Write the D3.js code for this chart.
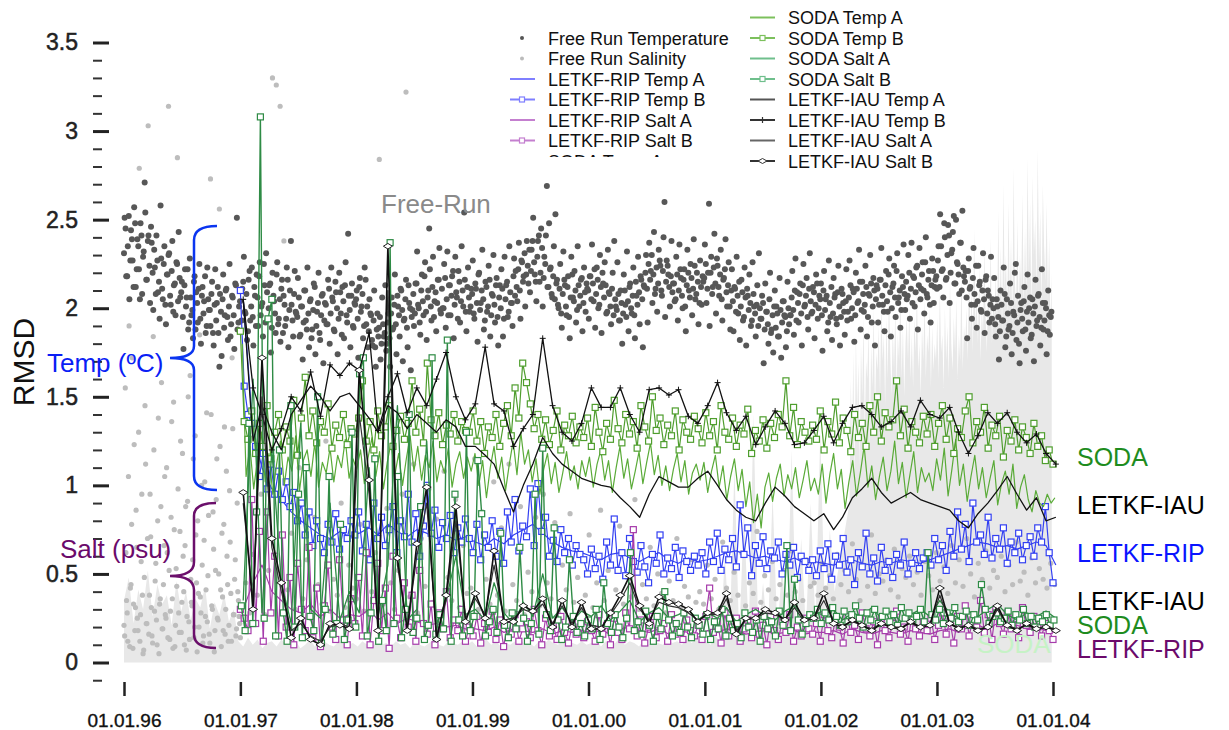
<!DOCTYPE html>
<html><head><meta charset="utf-8">
<script src="https://cdn.jsdelivr.net/npm/d3@7"></script>
<style>body{margin:0;background:#fff;} svg{display:block;font-family:"Liberation Sans",Arial,Helvetica,sans-serif;}</style>
</head><body><svg id="chart" width="1229" height="730"></svg>
<script>
// ---------------- DATA ----------------
const xTickYears = [1996,1997,1998,1999,2000,2001,2002,2003,2004];
const yMajorTicks = [0,0.5,1,1.5,2,2.5,3,3.5];

// Free run temperature dots, every 5 days from 1996-01-01
const frTemp = [
2.31,2.45,2.18,2.52,2.27,2.39,2.12,2.48,2.22,2.35,2.05,2.41,2.29,2.71,2.16,2.38,2.24,2.46,
2.20,2.33,2.08,2.27,2.15,2.58,2.11,2.25,2.02,2.19,2.30,2.07,2.21,1.98,2.14,2.26,2.04,2.17,
2.09,1.95,2.13,2.01,2.22,1.92,2.06,1.99,2.15,1.88,2.03,2.11,1.94,2.07,1.97,2.18,1.90,2.05,
1.99,2.08,1.86,2.02,1.93,2.12,1.67,1.98,2.05,1.89,2.10,1.95,2.01,1.84,2.07,1.96,2.14,2.51,1.92,
2.04,1.93,2.15,1.98,2.08,1.87,2.21,2.01,1.95,2.12,1.90,2.06,2.18,1.96,2.03,2.25,1.92,2.09,
2.00,2.14,1.89,2.07,1.97,2.19,1.91,2.05,2.11,1.86,2.02,1.94,2.16,1.99,2.38,1.93,2.08,1.98,
1.95,2.06,1.85,2.01,1.92,2.10,1.88,1.97,2.04,1.83,1.99,2.12,1.90,2.03,1.86,1.96,2.08,1.93,
2.02,1.91,2.11,1.97,2.06,1.88,2.15,2.00,1.94,2.09,1.85,2.04,2.13,1.96,2.42,1.99,2.07,1.90,2.03,
2.05,1.94,2.12,1.98,2.08,1.90,2.16,2.01,1.87,1.97,1.82,1.93,1.78,1.88,1.84,1.95,1.80,1.91,
1.86,1.76,1.92,1.83,1.97,1.88,2.02,1.91,2.07,1.96,2.11,1.99,1.93,2.05,1.89,2.13,2.00,1.95,
2.08,1.97,2.14,2.02,1.92,2.10,2.04,2.18,1.98,2.06,2.45,2.01,2.12,1.95,2.09,2.03,2.16,1.99,
2.11,2.00,2.17,2.05,1.96,2.13,2.07,2.21,2.02,2.09,1.94,2.15,2.04,2.10,2.54,1.98,2.12,2.06,2.01,
2.08,1.97,2.14,2.03,2.19,1.99,2.10,2.05,1.93,2.12,2.01,2.16,1.96,2.07,2.02,2.13,1.95,2.06,
2.00,2.11,1.94,2.05,2.15,1.98,2.09,2.03,2.18,2.07,2.12,2.22,2.10,2.27,2.15,2.31,2.19,2.24,
2.33,2.21,2.38,2.26,2.15,2.29,2.41,2.20,2.34,2.17,2.25,2.69,2.12,2.22,2.08,2.18,2.05,2.14,
2.02,2.11,1.97,2.08,2.16,2.01,2.12,1.95,2.06,2.19,2.04,2.10,1.99,2.13,2.07,2.17,2.03,2.09,2.14,
2.10,2.18,2.05,2.14,2.22,2.08,2.16,2.02,2.12,2.20,2.06,2.13,1.98,2.09,2.01,2.11,1.96,2.05,
1.99,2.08,1.93,2.03,1.97,2.10,1.95,2.04,2.12,2.00,2.07,1.96,2.15,2.02,2.09,2.18,2.05,2.13,
2.20,2.11,2.25,2.16,2.30,2.19,2.08,2.23,2.14,2.27,2.10,2.21,2.60,2.15,2.24,2.12,2.18,2.09,
2.14,2.05,2.19,2.10,2.22,2.07,2.16,2.01,2.13,2.20,2.06,2.17,2.11,2.24,2.08,2.15,2.03,2.12,2.18,
2.17,2.25,2.11,2.59,2.20,2.08,2.23,2.14,2.28,2.12,2.19,2.05,2.16,2.22,2.09,2.13,2.01,2.10,
2.04,2.12,1.98,2.07,2.15,2.01,2.09,1.95,2.06,2.11,1.99,2.03,1.93,2.08,1.97,2.02,1.90,2.00,
1.94,2.03,1.88,1.98,1.91,2.05,1.86,1.96,2.01,1.89,1.97,1.84,1.99,1.92,2.04,1.95,1.87,2.00,
1.96,2.06,1.99,2.10,1.93,2.03,2.08,1.97,2.13,2.01,2.07,1.95,2.11,2.04,1.98,2.09,2.02,2.14,2.00,
2.05,1.96,2.10,1.99,2.07,1.92,2.03,2.12,1.97,2.06,1.94,2.09,2.01,1.95,2.08,1.98,2.04,1.93,
2.06,2.13,2.00,2.09,1.96,2.11,2.04,2.15,1.99,2.08,2.02,2.12,1.95,2.07,2.14,2.01,2.10,2.05,
2.11,2.02,2.16,2.07,1.98,2.13,2.04,2.19,2.09,2.00,2.14,2.06,2.21,2.03,2.10,1.99,2.12,2.08,
2.15,2.07,2.20,2.11,2.03,2.17,2.09,2.24,2.13,2.05,2.19,2.10,2.26,2.08,2.16,2.02,2.13,2.21,2.12,
2.18,2.27,2.12,2.35,2.22,2.48,2.16,2.30,2.41,2.20,2.33,2.52,2.14,2.26,2.19,2.37,2.10,2.23,
2.15,2.06,2.21,2.11,2.02,2.17,2.08,2.24,2.04,2.13,1.99,2.10,2.05,2.16,1.97,2.07,2.02,1.94,
2.00,1.91,2.05,1.95,1.87,2.02,1.93,2.08,1.84,1.97,1.90,2.03,1.86,1.96,2.25,1.92,1.80,1.99,
1.94,2.04,1.88,1.98,1.92,2.06,1.85,1.97,2.01,1.90,2.07,1.95,1.89,2.03,1.93,2.00,1.87,1.96,1.95];
// second pass of free run temperature dots, every 5 days from 1996-01-03
const frTemp2 = [
2.51,2.18,2.35,2.05,2.44,2.27,2.57,2.12,2.39,2.22,2.48,2.08,2.32,2.54,2.16,2.41,2.03,2.37,
1.99,2.23,2.41,2.09,1.94,2.28,2.05,2.35,1.91,2.19,2.31,2.02,2.38,2.13,1.96,2.25,2.43,2.06,
2.15,1.77,2.22,2.06,1.88,2.28,1.96,1.83,2.18,2.09,1.92,2.25,1.80,2.12,2.04,1.86,2.23,1.99,
1.90,2.15,1.79,2.22,2.03,1.86,2.08,1.73,2.19,1.96,2.11,1.82,2.25,1.91,2.06,1.77,2.13,1.88,2.01,
1.87,2.11,2.29,1.97,1.82,2.16,1.93,2.23,1.79,2.07,2.19,1.90,2.26,2.01,1.84,2.13,2.31,1.94,
2.13,1.75,2.20,2.04,1.86,2.26,1.94,1.81,2.16,2.07,1.90,2.23,1.78,2.10,2.02,1.84,2.21,1.97,
2.17,1.84,2.01,1.71,2.10,1.93,2.23,1.78,2.05,1.88,2.14,1.74,1.98,2.20,1.82,2.07,1.69,2.03,
1.91,2.16,1.80,2.23,2.04,1.87,2.09,1.74,2.20,1.97,2.12,1.83,2.26,1.92,2.07,1.78,2.14,1.89,2.02,
2.10,1.72,2.17,2.01,1.83,2.23,1.91,1.78,2.05,1.96,1.79,2.10,1.67,1.97,1.89,1.71,2.06,1.84,
2.13,1.80,1.97,1.67,2.06,1.89,2.19,1.74,2.01,1.84,2.10,1.70,1.94,2.16,1.78,2.03,1.65,1.99,
1.90,2.14,2.32,2.00,1.85,2.19,1.96,2.26,1.82,2.10,2.22,1.93,2.29,2.04,1.87,2.16,2.34,1.97,
2.00,2.25,1.89,2.32,2.13,1.96,2.18,1.83,2.29,2.06,2.21,1.92,2.35,2.01,2.16,1.87,2.23,1.98,2.11,
2.27,1.94,2.11,1.81,2.20,2.03,2.33,1.88,2.15,1.98,2.24,1.84,2.08,2.30,1.92,2.17,1.79,2.13,
2.22,1.84,2.29,2.13,1.95,2.35,2.03,1.90,2.28,2.21,2.04,2.37,1.94,2.26,2.18,2.01,2.38,2.14,
2.09,2.33,2.51,2.19,2.04,2.38,2.15,2.45,2.01,2.29,2.41,2.12,2.48,2.23,2.06,2.35,2.53,2.16,
2.00,2.25,1.89,2.32,2.13,1.96,2.18,1.83,2.29,2.06,2.21,1.92,2.35,2.01,2.16,1.87,2.23,1.98,2.11,
1.94,2.18,2.36,2.04,1.89,2.23,2.00,2.30,1.86,2.14,2.26,1.97,2.33,2.08,1.91,2.20,2.38,2.01,
2.26,1.93,2.10,1.80,2.19,2.02,2.32,1.87,2.14,1.97,2.23,1.83,2.07,2.29,1.91,2.16,1.78,2.12,
2.30,1.92,2.37,2.21,2.03,2.43,2.11,1.98,2.33,2.24,2.07,2.40,1.95,2.27,2.19,2.01,2.38,2.14,
2.04,2.29,1.93,2.36,2.17,2.00,2.22,1.87,2.33,2.10,2.25,1.96,2.39,2.05,2.20,1.91,2.27,2.02,2.15,
2.36,2.03,2.20,1.90,2.29,2.12,2.42,1.97,2.24,2.07,2.33,1.93,2.17,2.39,2.01,2.26,1.88,2.22,
1.87,2.11,2.29,1.97,1.82,2.16,1.93,2.23,1.79,2.07,2.19,1.90,2.26,2.01,1.84,2.13,2.31,1.94,
2.07,1.69,2.14,1.98,1.80,2.20,1.88,1.75,2.10,2.01,1.84,2.17,1.72,2.04,1.96,1.78,2.15,1.91,
1.96,2.21,1.85,2.28,2.09,1.92,2.14,1.79,2.25,2.02,2.17,1.88,2.31,1.97,2.12,1.83,2.19,1.94,2.07,
2.14,1.76,2.21,2.05,1.87,2.27,1.95,1.82,2.17,2.08,1.91,2.24,1.79,2.11,2.03,1.85,2.22,1.98,
2.27,1.94,2.11,1.81,2.20,2.03,2.33,1.88,2.15,1.98,2.24,1.84,2.08,2.30,1.92,2.17,1.79,2.13,
1.92,2.16,2.34,2.02,1.87,2.21,1.98,2.28,1.84,2.12,2.24,1.95,2.31,2.06,1.89,2.18,2.36,1.99,
2.05,2.30,1.94,2.37,2.18,2.01,2.23,1.88,2.34,2.11,2.26,1.97,2.40,2.06,2.21,1.92,2.28,2.03,2.16,
2.11,2.35,2.53,2.21,2.06,2.40,2.17,2.47,2.03,2.31,2.43,2.14,2.50,2.25,2.08,2.37,2.55,2.18,
2.21,1.83,2.28,2.12,1.94,2.34,2.02,1.89,2.24,2.15,1.98,2.31,1.86,2.18,2.10,1.92,2.29,2.05,
2.17,1.84,2.01,1.71,2.10,1.93,2.23,1.78,2.05,1.88,2.14,1.74,1.98,2.20,1.82,2.07,1.69,2.03,
1.87,2.12,1.76,2.19,2.00,1.83,2.05,1.70,2.16,1.93,2.08,1.79,2.22,1.88,2.03,1.74,2.10,1.85,1.98];

// Free run salinity dots: 1996 every 4 days (two passes), then 1997-2004 every 12 days
const frSalt96 = [
0.21,1.55,0.35,0.12,1.90,0.42,0.78,0.08,1.23,0.31,0.65,0.18,2.79,0.27,0.95,0.05,0.48,1.12,
0.22,3.03,0.38,0.71,0.15,1.84,0.29,0.56,0.10,1.38,0.33,0.88,0.19,0.44,1.05,0.25,0.62,3.14,
0.13,0.82,0.36,1.47,0.09,0.53,2.85,0.28,0.74,0.17,1.18,0.40,0.66,0.07,0.91,0.23,1.62,0.34,
0.58,0.14,1.28,0.45,0.80,0.20,0.37,1.00,0.11,0.69,0.26,1.41,0.49,0.16,2.73,0.32,0.85,0.06,
0.52,1.15,0.24,2.56,0.41,0.73,0.18,1.33,0.30,0.60,0.12,0.97,0.39,1.72,0.27,0.47,0.15,0.90,
0.35,0.22];
const frSalt96b = [
0.15,0.62,0.28,1.05,0.09,0.44,1.72,0.33,0.18,0.86,0.25,1.30,0.12,0.57,0.38,0.07,1.45,0.22,
0.70,0.16,0.95,0.31,0.11,1.20,0.46,0.24,0.80,0.05,0.36,1.58,0.19,0.66,0.27,1.10,0.14,0.52,
0.29,1.36,0.08,0.75,0.21,0.43,0.98,0.17,1.25,0.34,0.60,0.10,0.88,0.26,1.50,0.13,0.47,0.32,
1.15,0.20,0.72,0.06,0.39,1.85,0.28,0.55,0.15,1.02,0.41,0.23,0.83,0.11,1.40,0.30,0.64,0.18,
0.92,0.25,0.50,1.22,0.09,0.37,0.78,0.16,1.08,0.44,0.21,0.68,0.12,1.32,0.27,0.58,0.19,0.40,
0.26,0.14];
const frSaltLate = [
0.32,0.45,0.28,0.61,0.38,0.95,0.27,0.52,3.30,3.26,3.14,2.38,0.41,0.73,0.30,1.10,0.36,0.58,0.25,0.82,0.44,0.33,1.25,0.29,0.47,0.38,0.90,0.31,0.55,0.42,
0.36,0.78,0.29,1.05,0.40,0.62,2.84,0.33,0.87,0.45,0.30,0.52,0.95,3.22,0.37,1.12,0.28,0.70,0.43,0.98,0.34,0.81,0.26,1.08,0.48,0.35,0.92,0.31,0.66,0.39,
0.42,1.15,0.30,0.85,0.47,0.33,1.02,0.38,0.76,0.29,1.12,0.44,0.35,0.88,0.27,0.51,0.40,0.82,0.32,0.95,0.45,0.36,0.79,0.28,0.55,0.41,0.84,0.34,0.48,0.30,
0.38,0.72,0.31,0.45,0.86,0.35,0.52,0.29,0.41,0.77,0.33,0.48,0.37,0.92,0.30,0.44,0.36,0.65,0.32,0.50,0.39,0.28,0.46,0.35,0.70,0.31,0.43,0.37,0.58,0.34,
0.40,0.33,0.55,0.36,0.47,0.30,0.68,0.42,0.35,0.51,0.38,0.62,0.32,0.45,0.39,0.74,0.34,0.49,0.41,0.57,0.36,0.44,0.52,0.38,0.63,0.40,0.47,0.35,0.58,0.43,
0.45,0.38,0.56,0.42,0.49,0.36,0.61,0.44,0.52,0.40,0.67,0.47,0.35,0.55,0.43,0.72,0.39,0.50,0.46,0.58,0.41,0.64,0.37,0.53,0.48,0.60,0.44,0.51,0.38,0.57,
0.49,0.41,0.62,0.46,0.54,0.39,0.66,0.45,0.58,0.43,0.70,0.50,0.37,0.56,0.47,0.63,0.42,0.52,0.48,0.60,0.40,0.55,0.44,0.68,0.46,0.51,0.38,0.59,0.45,0.53,
0.47,0.42,0.56,0.44];

// Light grey background field: every 15 days from 1996-01-01, then every 4 days from 2002-04-01
const greyEarly = [
0.35,0.48,0.22,0.41,0.30,0.52,0.26,0.44,0.33,0.38,0.21,0.46,0.29,0.40,0.24,0.36,0.31,0.43,0.19,0.34,0.27,0.39,0.23,0.30,
0.12,0.09,0.14,0.10,0.13,0.08,0.11,0.12,0.09,0.13,0.10,0.11,0.12,0.08,0.10,0.13,0.09,0.11,0.12,0.10,0.09,0.12,0.11,0.10,
0.11,0.09,0.12,0.10,0.08,0.13,0.10,0.11,0.09,0.12,0.10,0.11,0.08,0.12,0.10,0.09,0.11,0.13,0.10,0.09,0.12,0.11,0.10,0.12,
0.10,0.12,0.09,0.11,0.13,0.10,0.12,0.09,0.11,0.10,0.12,0.14,0.10,0.11,0.09,0.12,0.10,0.13,0.11,0.10,0.12,0.09,0.11,0.10,
0.12,0.10,0.11,0.13,0.09,0.12,0.10,0.11,0.14,0.10,0.12,0.11,0.09,0.13,0.10,0.12,0.11,0.10,0.13,0.11,0.12,0.10,0.14,0.11,
0.13,0.11,0.12,0.10,0.15,0.12,0.60,0.14,1.10,0.13,0.85,0.16,1.40,0.15,0.45,0.14,0.95,0.17,0.55,0.15,1.20,0.16,0.70,0.18,
0.90,0.20,1.30,0.25,0.75,0.40];
const greyLate = [
0.9,1.6,1.2,1.75,1.0,1.85,1.4,1.7,1.1,1.8,1.5,1.95,1.3,1.7,1.6,1.9,1.2,1.8,1.55,2.0,1.4,1.75,1.65,
1.9,1.5,2.05,1.7,1.85,1.45,1.95,1.6,2.1,1.75,1.5,1.9,1.65,2.0,1.55,1.85,1.7,2.15,1.6,1.9,1.5,1.8,1.95,
1.7,2.0,1.6,1.85,1.55,1.95,1.75,2.1,1.65,1.8,1.5,1.9,1.7,2.05,1.6,1.85,1.75,2.0,1.55,1.9,1.65,1.8,1.7,
1.95,1.6,2.1,1.75,1.85,1.55,2.0,1.7,1.9,1.6,2.15,1.8,1.65,1.95,1.75,2.05,1.6,1.85,1.7,2.2,1.65,1.9,1.8,
2.0,1.7,2.3,1.85,2.1,1.75,2.45,1.9,2.05,1.8,2.25,1.7,2.0,1.85,2.35,1.95,1.75,2.15,1.9,2.4,1.8,2.05,1.95,
2.2,1.9,2.55,2.0,2.35,1.85,2.7,2.1,2.3,1.95,2.6,2.05,2.4,1.9,2.8,2.15,2.0,2.5,1.95,2.3,2.1,2.65,2.0,
2.45,2.05,2.85,2.2,2.6,1.95,2.75,2.3,2.5,2.1,2.9,2.25,2.55,2.0,2.7,2.35,2.15,2.6,2.05,2.4,1.9,2.2];

// 12-day series from 1997-01-01
const ripTempB = [
2.10,1.56,1.40,1.35,1.22,1.05,1.18,0.98,1.12,0.95,1.08,0.92,1.02,0.88,0.96,0.80,0.90,0.72,0.85,0.66,0.80,0.70,0.62,0.78,0.68,0.84,0.64,0.75,0.70,0.80,
0.72,0.85,0.63,0.78,0.58,0.90,0.70,0.82,0.66,0.75,0.88,0.62,0.80,0.71,0.95,0.68,0.84,0.60,0.77,1.00,0.73,0.86,0.65,0.79,0.70,0.83,0.62,0.76,0.68,0.81,
0.70,0.62,0.78,0.58,0.72,0.65,0.80,0.60,0.74,0.56,0.85,0.68,0.92,0.63,0.77,0.71,0.98,0.66,1.01,0.74,0.82,0.60,0.69,0.57,0.75,0.62,0.70,0.55,0.66,0.61,
0.58,0.50,0.64,0.53,0.60,0.47,0.68,0.55,0.81,0.52,0.62,0.49,0.70,0.57,0.51,0.66,0.54,0.45,0.61,0.56,0.72,0.50,0.59,0.53,0.65,0.48,0.63,0.57,0.52,0.60,
0.55,0.62,0.50,0.68,0.57,0.73,0.52,0.64,0.58,0.70,0.54,0.89,0.61,0.76,0.49,0.66,0.56,0.71,0.53,0.63,0.59,0.68,0.50,0.61,0.55,0.65,0.48,0.60,0.57,0.52,
0.58,0.49,0.63,0.53,0.67,0.47,0.60,0.55,0.70,0.51,0.58,0.44,0.62,0.54,0.73,0.50,0.59,0.46,0.65,0.52,0.57,0.48,0.61,0.55,0.68,0.50,0.56,0.62,0.53,0.59,
0.62,0.55,0.70,0.58,0.66,0.52,0.74,0.60,0.85,0.64,0.78,0.57,0.90,0.68,0.72,0.61,0.82,0.59,0.70,0.64,0.76,0.56,0.68,0.62,0.73,0.58,0.66,0.71,0.60,0.76,
0.68,0.88,0.62,0.45];
const ripSaltB = [
0.30,0.25,0.18,0.92,0.22,0.74,0.12,0.85,0.28,0.60,0.15,0.72,0.20,0.48,0.10,0.56,0.30,0.18,0.65,0.14,0.42,0.09,0.32,0.55,0.20,0.13,0.58,0.24,0.10,0.36,
0.22,0.48,0.15,0.62,0.10,0.35,0.56,0.18,0.42,0.08,0.60,0.25,0.14,0.45,0.20,0.38,0.12,0.52,0.22,0.16,0.33,0.10,0.28,0.19,0.40,0.14,0.24,0.18,0.30,0.12,
0.20,0.15,0.26,0.11,0.22,0.17,0.29,0.13,0.24,0.09,0.21,0.16,0.27,0.12,0.19,0.23,0.14,0.30,0.18,0.10,0.25,0.15,0.21,0.13,0.26,0.17,0.11,0.22,0.16,0.20,
0.14,0.23,0.18,0.12,0.27,0.16,0.21,0.10,0.25,0.17,0.13,0.28,0.19,0.75,0.15,0.24,0.11,0.20,0.26,0.14,0.18,0.22,0.12,0.27,0.16,0.20,0.13,0.24,0.18,0.15,
0.21,0.13,0.26,0.42,0.17,0.23,0.11,0.28,0.15,0.20,0.25,0.12,0.19,0.24,0.14,0.29,0.16,0.21,0.10,0.26,0.18,0.13,0.23,0.17,0.27,0.12,0.20,0.15,0.25,0.19,
0.16,0.22,0.12,0.27,0.18,0.14,0.24,0.20,0.11,0.26,0.17,0.21,0.13,0.28,0.19,0.15,0.23,0.10,0.25,0.18,0.14,0.22,0.29,0.16,0.20,0.12,0.26,0.19,0.15,0.23,
0.18,0.25,0.13,0.21,0.28,0.16,0.23,0.11,0.26,0.19,0.32,0.15,0.24,0.20,0.35,0.17,0.27,0.13,0.30,0.22,0.16,0.28,0.19,0.25,0.14,0.31,0.21,0.17,0.26,0.20,
0.15,0.22,0.18,0.13];
const sodaTempB = [
1.87,1.36,1.26,1.42,1.18,1.35,1.22,1.45,1.15,1.30,1.40,1.20,1.33,1.25,1.48,1.17,1.38,1.61,1.28,1.42,1.24,1.36,1.30,1.46,1.21,1.34,1.27,1.40,1.23,1.32,
1.29,1.38,1.59,1.25,1.36,1.20,1.42,1.28,1.33,1.45,1.22,1.31,1.39,1.26,1.35,1.59,1.30,1.43,1.24,1.69,1.37,1.28,1.41,1.23,1.34,1.29,1.40,1.25,1.36,1.31,
1.30,1.42,1.25,1.36,1.18,1.33,1.27,1.40,1.22,1.35,1.45,1.28,1.55,1.38,1.69,1.58,1.46,1.32,1.40,1.26,1.37,1.23,1.31,1.42,1.20,1.34,1.28,1.39,1.24,1.33,
1.27,1.38,1.22,1.44,1.30,1.19,1.35,1.26,1.48,1.32,1.24,1.40,1.29,1.36,1.21,1.45,1.33,1.25,1.50,1.31,1.38,1.23,1.34,1.28,1.42,1.20,1.37,1.30,1.26,1.39,
1.32,1.24,1.41,1.28,1.36,1.20,1.45,1.30,1.26,1.38,1.22,1.34,1.29,1.43,1.18,1.31,1.25,1.37,1.21,1.35,1.27,1.40,1.33,1.59,1.28,1.44,1.23,1.36,1.30,1.25,
1.34,1.26,1.42,1.20,1.36,1.29,1.47,1.24,1.38,1.31,1.19,1.40,1.27,1.35,1.22,1.45,1.30,1.50,1.25,1.41,1.33,1.37,1.59,1.28,1.43,1.21,1.36,1.30,1.24,1.39,
1.29,1.40,1.22,1.35,1.45,1.26,1.38,1.18,1.32,1.27,1.42,1.50,1.24,1.36,1.30,1.44,1.21,1.34,1.28,1.39,1.16,1.31,1.25,1.37,1.20,1.33,1.27,1.18,1.35,1.22,
1.28,1.14,1.20,1.12];
const sodaTempA = [
1.80,1.05,1.22,0.98,1.15,1.30,1.02,1.18,0.95,1.12,1.25,1.00,1.16,1.08,1.28,0.97,1.14,1.20,1.05,1.24,0.99,1.13,1.07,1.21,1.02,1.17,1.10,1.26,1.04,1.15,
1.09,1.20,1.01,1.16,1.27,1.05,1.19,0.98,1.13,1.24,1.06,1.18,1.00,1.15,1.28,1.08,1.22,1.03,1.17,1.10,1.25,1.02,1.14,1.07,1.21,0.99,1.12,1.19,1.04,1.16,
1.08,1.18,1.00,1.14,0.93,1.10,1.22,1.04,1.16,0.97,1.12,1.25,1.06,1.30,1.12,1.20,1.02,1.15,0.95,1.09,1.18,1.01,1.13,0.96,1.07,1.19,1.03,1.11,0.98,1.14,
1.05,1.16,0.99,1.12,1.20,1.03,1.14,0.96,1.10,1.22,1.04,1.15,0.98,1.08,1.19,1.01,1.13,1.24,1.06,1.17,1.00,1.11,0.97,1.09,1.18,1.02,1.14,0.95,1.07,1.12,
1.03,1.13,0.96,1.08,1.17,0.99,1.11,0.92,1.05,1.15,0.97,1.09,0.88,1.02,0.79,0.95,0.76,0.99,1.07,0.91,1.04,1.12,0.94,1.06,0.98,1.10,0.93,1.03,1.14,0.97,
1.04,0.95,1.12,0.90,1.06,1.18,0.98,1.09,0.87,1.02,1.14,0.94,1.07,1.22,0.99,1.11,0.92,1.05,1.16,0.97,1.08,1.25,1.01,1.13,0.93,1.06,1.19,0.96,1.10,1.02,
1.07,0.97,1.15,1.03,1.21,0.94,1.09,1.26,1.00,1.12,0.91,1.05,1.17,0.98,1.10,0.93,1.04,1.14,0.89,1.01,1.08,0.95,1.12,0.87,0.99,1.06,0.92,0.85,0.97,0.90,
0.88,0.95,0.90,0.93];
const sodaSaltB = [
0.32,0.18,1.35,0.22,0.85,3.08,0.25,1.94,2.05,0.15,1.20,0.28,0.12,1.45,0.20,0.95,0.14,1.10,0.26,0.18,1.50,0.11,0.30,1.05,0.16,0.22,0.78,0.13,0.24,1.30,
0.20,1.63,1.72,0.15,0.28,1.15,0.12,0.35,0.18,2.37,0.22,1.05,0.14,0.30,1.40,0.17,0.25,0.88,0.13,0.21,1.72,0.16,0.27,0.19,1.82,0.12,0.95,0.24,0.15,1.30,
0.18,0.26,1.14,0.84,0.15,0.23,0.30,0.17,0.73,0.21,0.14,0.28,0.19,0.65,0.25,0.12,0.22,0.95,0.16,1.21,0.27,0.18,0.76,0.24,0.13,0.20,0.58,0.26,0.17,0.22,
0.15,0.24,0.19,0.30,0.13,0.45,0.22,0.17,0.27,0.20,0.14,0.25,0.62,0.18,0.23,0.16,0.29,0.21,0.12,0.26,0.19,0.40,0.24,0.15,0.22,0.17,0.28,0.20,0.14,0.25,
0.21,0.16,0.27,0.13,0.23,0.19,0.30,0.15,0.25,0.18,0.22,0.14,0.28,0.20,0.17,0.24,0.12,0.26,0.19,0.23,0.15,0.29,0.21,0.66,0.18,0.47,0.24,0.16,0.22,0.27,
0.25,0.30,0.22,0.28,0.24,0.31,0.26,0.21,0.29,0.23,0.27,0.32,0.25,0.20,0.28,0.24,0.30,0.22,0.26,0.29,0.23,0.27,0.21,0.31,0.25,0.28,0.24,0.26,0.30,0.23,
0.62,0.27,0.24,0.30,0.22,0.28,0.25,0.31,0.23,0.26,0.29,0.21,0.27,0.24,0.44,0.30,0.22,0.26,0.28,0.23,0.25,0.29,0.21,0.27,0.24,0.30,0.22,0.26,0.20,0.25,
0.23,0.27,0.21,0.24];

// Monthly series from Jan 1997 to Jan 2004
const ripTempA = [
2.05,1.30,1.10,0.98,0.92,0.85,0.80,0.76,0.72,0.70,0.74,0.71,
0.73,0.76,0.72,0.78,0.74,0.71,0.75,0.73,0.70,0.72,0.69,0.71,
0.68,0.66,0.70,0.67,0.72,0.75,0.78,0.73,0.68,0.65,0.63,0.62,
0.60,0.58,0.61,0.62,0.59,0.57,0.60,0.62,0.58,0.56,0.59,0.57,
0.58,0.60,0.62,0.63,0.61,0.59,0.60,0.58,0.57,0.59,0.56,0.57,
0.56,0.55,0.57,0.58,0.56,0.55,0.57,0.56,0.58,0.57,0.56,0.58,
0.60,0.62,0.64,0.66,0.68,0.67,0.65,0.66,0.64,0.66,0.68,0.66,0.55];
const ripSaltA = [
0.30,0.45,0.55,0.40,0.35,0.30,0.28,0.33,0.26,0.30,0.25,0.27,
0.26,0.30,0.24,0.28,0.22,0.25,0.23,0.21,0.22,0.20,0.21,0.19,
0.19,0.18,0.20,0.17,0.19,0.18,0.17,0.19,0.16,0.18,0.17,0.18,
0.17,0.18,0.16,0.19,0.20,0.18,0.17,0.19,0.16,0.18,0.17,0.16,
0.18,0.17,0.19,0.18,0.16,0.17,0.18,0.16,0.17,0.18,0.16,0.17,
0.17,0.18,0.16,0.19,0.17,0.16,0.18,0.17,0.16,0.18,0.17,0.16,
0.18,0.19,0.17,0.20,0.21,0.19,0.22,0.20,0.21,0.19,0.20,0.18,0.17];
const sodaSaltA = [
0.35,1.60,0.28,1.20,0.45,0.22,1.35,0.30,0.25,0.90,0.24,0.40,
0.28,1.10,0.26,0.55,1.45,0.24,0.30,1.25,0.22,0.35,0.60,0.27,
0.30,0.24,0.45,0.28,0.22,0.34,0.26,0.50,0.25,0.31,0.23,0.29,
0.26,0.32,0.24,0.29,0.35,0.23,0.28,0.31,0.25,0.27,0.30,0.24,
0.28,0.25,0.31,0.23,0.27,0.30,0.26,0.24,0.29,0.32,0.25,0.28,
0.27,0.30,0.24,0.28,0.26,0.31,0.25,0.29,0.23,0.27,0.30,0.26,
0.35,0.28,0.25,0.29,0.26,0.30,0.33,0.27,0.24,0.28,0.26,0.29,0.25];
const iauTempA = [
2.05,1.25,1.45,1.30,1.20,1.40,1.48,1.56,1.50,1.42,1.50,1.52,
1.45,1.38,1.30,1.45,1.41,1.32,1.40,1.35,1.30,1.37,1.33,1.22,
1.22,1.17,1.12,0.98,0.85,1.00,1.12,1.27,1.18,1.12,1.08,1.04,
1.02,1.00,0.99,0.93,0.88,0.82,0.95,1.05,1.02,0.99,0.99,1.04,
1.08,1.00,0.92,0.86,0.82,0.80,0.90,0.99,0.94,0.88,0.84,0.80,
0.84,0.75,0.82,0.93,0.98,1.04,0.96,0.90,0.93,0.96,0.92,0.90,
0.88,0.86,0.80,0.76,0.84,0.90,0.97,1.05,0.95,0.86,0.93,0.80,0.82];
const iauTempB = [
2.05,1.55,1.40,1.20,1.32,1.50,1.42,1.64,1.39,1.68,1.62,1.69,
1.65,1.86,1.31,1.50,1.63,1.41,1.55,1.45,1.60,1.75,1.50,1.37,
1.46,1.78,1.46,1.42,1.22,1.32,1.40,1.83,1.45,1.30,1.25,1.35,
1.55,1.44,1.44,1.55,1.40,1.30,1.54,1.55,1.51,1.54,1.39,1.35,
1.45,1.58,1.41,1.31,1.39,1.23,1.33,1.42,1.35,1.23,1.24,1.31,
1.39,1.24,1.35,1.44,1.45,1.40,1.33,1.36,1.42,1.33,1.48,1.40,
1.38,1.44,1.30,1.18,1.28,1.41,1.35,1.41,1.30,1.24,1.29,1.18,1.12];
const iauSaltA = [
0.90,0.35,1.50,0.65,0.40,0.18,0.22,0.15,0.12,0.20,0.22,0.20,
1.40,0.95,0.20,2.10,0.55,0.20,0.60,0.90,0.15,0.35,0.80,0.25,
0.36,0.27,0.55,0.24,0.25,0.30,0.28,0.33,0.22,0.32,0.22,0.31,
0.21,0.20,0.27,0.35,0.45,0.30,0.24,0.34,0.32,0.31,0.28,0.24,
0.27,0.27,0.36,0.18,0.24,0.25,0.28,0.27,0.24,0.31,0.23,0.25,
0.35,0.23,0.21,0.23,0.21,0.19,0.22,0.20,0.20,0.22,0.20,0.21,
0.38,0.22,0.20,0.21,0.19,0.20,0.30,0.21,0.19,0.21,0.19,0.20,0.19];
const iauSaltB = [
0.96,0.30,1.72,0.70,0.45,0.14,0.25,0.13,0.10,0.22,0.21,0.19,
1.65,1.03,0.18,2.35,0.59,0.18,0.67,0.99,0.13,0.38,0.88,0.23,
0.39,0.25,0.63,0.23,0.23,0.32,0.29,0.36,0.20,0.35,0.20,0.34,
0.19,0.19,0.28,0.38,0.49,0.32,0.22,0.37,0.34,0.33,0.30,0.23,
0.28,0.28,0.39,0.16,0.25,0.25,0.30,0.28,0.24,0.34,0.24,0.25,
0.39,0.22,0.20,0.24,0.21,0.18,0.22,0.20,0.19,0.23,0.20,0.21,
0.42,0.22,0.19,0.21,0.18,0.20,0.32,0.21,0.18,0.22,0.19,0.20,0.18];

const legendCol1 = ["Free Run Temperature","Free Run Salinity","LETKF-RIP Temp A","LETKF-RIP Temp B","LETKF-RIP Salt A","LETKF-RIP Salt B"];
const legendCol2 = ["SODA Temp A","SODA Temp B","SODA Salt A","SODA Salt B","LETKF-IAU Temp A","LETKF-IAU Temp B","LETKF-IAU Salt A","LETKF-IAU Salt B"];
const rightLabels = ["SODA","LETKF-IAU","LETKF-RIP","LETKF-IAU","SODA","LETKF-RIP"];

// ---------------- DRAWING ----------------
const FONT = '"Liberation Sans", Arial, Helvetica, sans-serif';
const svg = d3.select("#chart");
const x = d3.scaleTime().domain([new Date(1996,0,1), new Date(2004,0,1)]).range([124,1053]);
const y = d3.scaleLinear().domain([0,3.5]).range([662.5,42.5]);

const C = {
  frT:"#575757", frS:"#bdbdbd", grey:"#e8e8e8",
  ripT:"#3340f2", ripS:"#a63cab",
  sodaT:"#4f9e2e", sodaTA:"#5aab38", sodaS:"#2e8b45",
  iau:"#111111"
};

function stepSeries(start, step, vals){ return vals.map((v,i)=>({d:d3.timeDay.offset(start,i*step), v})); }
function monthSeries(start, vals){ return vals.map((v,i)=>({d:d3.timeMonth.offset(start,i), v})); }

const s12 = new Date(1997,0,1);
const m10 = new Date(1997,0,10);
const line = d3.line().x(p=>x(p.d)).y(p=>y(p.v));
const plot = svg.append("g");

// grey field
const greyData = stepSeries(new Date(1996,0,1),15,greyEarly).concat(stepSeries(new Date(2002,3,1),4,greyLate));
plot.append("path").datum(greyData)
  .attr("d", d3.area().x(p=>x(p.d)).y0(y(0)).y1(p=>y(p.v)))
  .attr("fill", C.grey);

function dots(data, color, r){
  plot.append("g").selectAll("circle").data(data).join("circle")
    .attr("cx",p=>x(p.d)).attr("cy",p=>y(p.v)).attr("r",r).attr("fill",color);
}
dots(stepSeries(new Date(1996,0,1),4,frSalt96), C.frS, 2.6);
dots(stepSeries(new Date(1996,0,3),4,frSalt96b), C.frS, 2.6);
dots(stepSeries(new Date(1997,0,6),12,frSaltLate), C.frS, 2.6);
dots(stepSeries(new Date(1996,0,1),5,frTemp), C.frT, 3.0);
dots(stepSeries(new Date(1996,0,3),5,frTemp2), C.frT, 3.0);

function drawLine(data, color, w){
  plot.append("path").datum(data).attr("d", line).attr("fill","none")
    .attr("stroke",color).attr("stroke-width",w).attr("stroke-linejoin","round");
}
function squares(data, color){
  plot.append("g").selectAll("rect").data(data).join("rect")
    .attr("x",p=>x(p.d)-3).attr("y",p=>y(p.v)-3).attr("width",6).attr("height",6)
    .attr("fill","#fff").attr("stroke",color).attr("stroke-width",1.2);
}
function diamonds(data){
  plot.append("g").selectAll("path").data(data).join("path")
    .attr("d",p=>{const cx=x(p.d), cy=y(p.v); return `M${cx-4.5},${cy}L${cx},${cy-2.8}L${cx+4.5},${cy}L${cx},${cy+2.8}Z`;})
    .attr("fill","#fff").attr("stroke","#222").attr("stroke-width",1);
}
function pluses(data){
  plot.append("g").selectAll("path").data(data).join("path")
    .attr("d",p=>{const cx=x(p.d), cy=y(p.v); return `M${cx-3},${cy}h6M${cx},${cy-3}v6`;})
    .attr("stroke","#111").attr("stroke-width",1);
}

// LETKF-RIP
drawLine(monthSeries(m10, ripTempA), C.ripT, 1.2);
const rtb = stepSeries(s12,12,ripTempB); drawLine(rtb, C.ripT, 1.2); squares(rtb, C.ripT);
drawLine(monthSeries(m10, ripSaltA), C.ripS, 1.2);
const rsb = stepSeries(s12,12,ripSaltB); drawLine(rsb, C.ripS, 1.2); squares(rsb, C.ripS);
// SODA
drawLine(stepSeries(new Date(1997,0,7),12,sodaTempA), C.sodaTA, 1.2);
const stb = stepSeries(s12,12,sodaTempB); drawLine(stb, C.sodaT, 1.2); squares(stb, C.sodaT);
drawLine(monthSeries(m10, sodaSaltA), C.sodaS, 1.3);
const ssb = stepSeries(new Date(1997,0,4),12,sodaSaltB); drawLine(ssb, C.sodaS, 1.4); squares(ssb, C.sodaS);
// LETKF-IAU
drawLine(monthSeries(m10, iauTempA), C.iau, 1.3);
const itb = monthSeries(m10, iauTempB); drawLine(itb, C.iau, 1.3); pluses(itb);
drawLine(monthSeries(m10, iauSaltA), "#333", 1.2);
const isb = monthSeries(m10, iauSaltB); drawLine(isb, C.iau, 1.6); diamonds(isb);

// ---------------- AXES ----------------
const yMinor = d3.range(-1,35).map(i=>i/10).filter(v=>Math.round(v*10)%5!==0);
const ya = svg.append("g").attr("transform","translate(109,0)")
  .call(d3.axisLeft(y).tickValues(yMajorTicks).tickSize(16).tickPadding(15).tickFormat(d3.format("~g")));
ya.select(".domain").remove();
ya.attr("font-size",23).attr("font-family",FONT);
ya.selectAll("line").attr("stroke","#222").attr("stroke-width",3);
ya.selectAll("text").attr("fill","#222").attr("stroke","#222").attr("stroke-width",0.5);
const ym = svg.append("g").attr("transform","translate(102,0)")
  .call(d3.axisLeft(y).tickValues(yMinor).tickSize(9).tickFormat(""));
ym.select(".domain").remove();
ym.selectAll("line").attr("stroke","#333").attr("stroke-width",2);

const xa = svg.append("g").attr("transform","translate(0,682)")
  .call(d3.axisBottom(x).tickValues(xTickYears.map(yr=>new Date(yr,0,1))).tickSize(14).tickPadding(18).tickFormat(d3.timeFormat("%d.%m.%y")));
xa.select(".domain").remove();
xa.attr("font-size",19).attr("font-family",FONT);
xa.selectAll("line").attr("stroke","#222").attr("stroke-width",2.5);
xa.selectAll("text").attr("fill","#111").attr("stroke","#111").attr("stroke-width",0.35);

svg.append("text").attr("transform","translate(34,362) rotate(-90)")
  .attr("text-anchor","middle").attr("font-size",30).attr("fill","#111").text("RMSD");

// ---------------- ANNOTATIONS ----------------
svg.append("path").attr("d","M217,226 Q194,226 194,240 L194,346 Q194,358 170,358 Q194,358 194,370 L194,476 Q194,490 217,490")
  .attr("fill","none").attr("stroke","#0b35f0").attr("stroke-width",2.5);
svg.append("path").attr("d","M216,503 Q194,503 194,516 L194,562 Q194,576 170,576 Q194,576 194,590 L194,634 Q194,648 216,648")
  .attr("fill","none").attr("stroke","#6b0f6b").attr("stroke-width",2.5);
svg.append("text").attr("x",47).attr("y",372).attr("font-size",26).attr("fill","#0a1ef5").text("Temp (ºC)");
svg.append("text").attr("x",60).attr("y",558).attr("font-size",26).attr("fill","#6b0a6b").text("Salt (psu)");
svg.append("text").attr("x",381).attr("y",213).attr("font-size",26).attr("fill","#8a8a8a").text("Free-Run");
svg.append("text").attr("x",977).attr("y",653).attr("font-size",26).attr("fill","#c6f2c6").text("SODA");

const rlY = [466,514,562,610,634,658];
const rlC = ["#1e8c1e","#000","#0a14ff","#000","#1e8c1e","#6b0a6b"];
svg.append("g").selectAll("text").data(rightLabels).join("text")
  .attr("x",1077).attr("y",(d,i)=>rlY[i]).attr("font-size",25).attr("fill",(d,i)=>rlC[i]).text(d=>d);

// ---------------- LEGEND ----------------
const lg = svg.append("g").attr("font-size",18).attr("fill","#111");
const l1y = [38,58.5,79,99.5,120,140.5];
const l2y = [17.5,38,58.5,79,99.5,120,140.5,161];
const L1C = ["#555","#bbb","#7f7fff","#7f7fff","#c47fcf","#c47fcf"];
legendCol1.forEach((t,i)=>{
  const cy=l1y[i];
  if(i<2){ lg.append("circle").attr("cx",522).attr("cy",cy).attr("r",2).attr("fill",L1C[i]); }
  else {
    lg.append("line").attr("x1",510).attr("x2",535).attr("y1",cy).attr("y2",cy).attr("stroke",L1C[i]).attr("stroke-width",2);
    if(i%2===1) lg.append("rect").attr("x",519.5).attr("y",cy-2.5).attr("width",5).attr("height",5).attr("fill","#fff").attr("stroke",L1C[i]).attr("stroke-width",1.2);
  }
  lg.append("text").attr("x",548).attr("y",cy+6.5).text(t);
});
const L2C = ["#7cc05c","#7cc05c","#6fbf8c","#6fbf8c","#555","#333","#666","#333"];
legendCol2.forEach((t,i)=>{
  const cy=l2y[i];
  lg.append("line").attr("x1",750).attr("x2",775).attr("y1",cy).attr("y2",cy).attr("stroke",L2C[i]).attr("stroke-width",2);
  if(i===1||i===3) lg.append("rect").attr("x",760).attr("y",cy-2.5).attr("width",5).attr("height",5).attr("fill","#fff").attr("stroke",L2C[i]).attr("stroke-width",1.2);
  if(i===5) lg.append("path").attr("d",`M${762.5},${cy-3}v6`).attr("stroke","#333").attr("stroke-width",1.2);
  if(i===7) lg.append("path").attr("d",`M758,${cy}L762.5,${cy-2.5}L767,${cy}L762.5,${cy+2.5}Z`).attr("fill","#fff").attr("stroke","#333").attr("stroke-width",1);
  lg.append("text").attr("x",788).attr("y",cy+6.5).text(t);
});
// clipped, partly hidden legend entry under first column
svg.append("clipPath").attr("id","lgclip").append("rect").attr("x",500).attr("y",150).attr("width",250).attr("height",7);
svg.append("text").attr("clip-path","url(#lgclip)").attr("x",548).attr("y",167.5).attr("font-size",18).attr("fill","#111").text(legendCol2[0]);
</script>
</body></html>
